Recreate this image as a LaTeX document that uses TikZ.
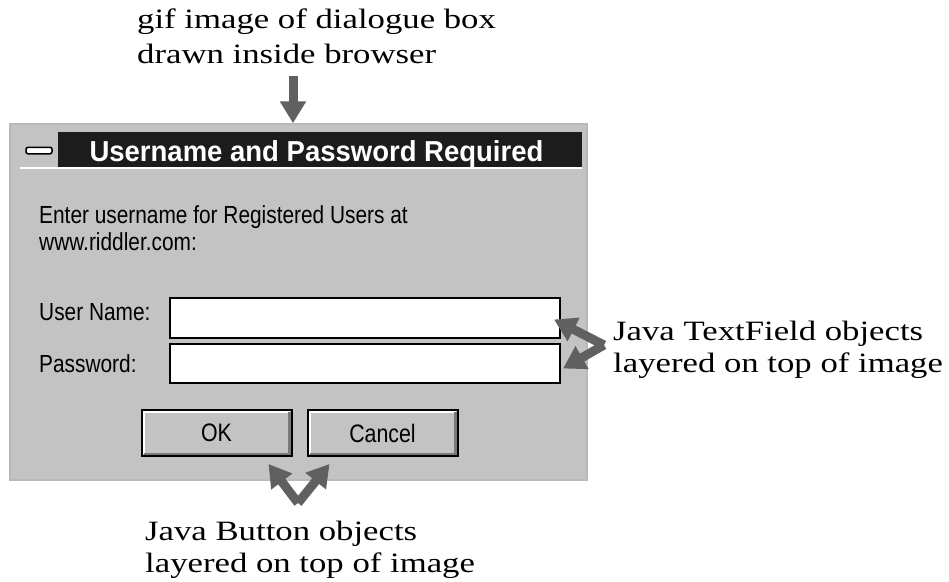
\documentclass[tikz,border=0pt]{standalone}
\usepackage{fontspec}
\usepackage{graphicx}
\setmainfont{Liberation Serif}
\setsansfont{Liberation Sans}
\usetikzlibrary{arrows.meta}
\definecolor{dlgbg}{HTML}{C3C3C3}
\definecolor{arrgray}{HTML}{606060}
\definecolor{titlebg}{HTML}{1C1C1C}
\definecolor{shadow}{HTML}{7A7A7A}
\newcommand\widetext[1]{\scalebox{1.24}[1]{#1}}
\newcommand\talltext[1]{\scalebox{0.97}[1.15]{#1}}
\begin{document}
\begin{tikzpicture}[x=1pt,y=-1pt,
  note/.style={font=\fontsize{28}{33}\selectfont, anchor=base west, inner sep=0pt},
  dlgtext/.style={font=\sffamily\fontsize{21.5}{25}\selectfont, anchor=base west, inner sep=0pt},
  fatarrow/.style={draw=arrgray, line width=9pt, -{Triangle[length=22pt,width=25pt]}},
  field/.style={draw=black, line width=2pt, fill=white, minimum width=390pt, inner sep=0pt},
  button/.style={draw=black, line width=2pt, fill=dlgbg, minimum width=150pt, minimum height=46pt, inner sep=0pt, font=\sffamily\fontsize{22}{25}\selectfont},
]
\useasboundingbox (0,0) rectangle (949,581);

% dialog
\node[draw=gray!55, line width=1.5pt, fill=dlgbg, minimum width=577pt, minimum height=356pt, inner sep=0pt] (dlg) at (298.5,302) {};
\node[fill=titlebg, minimum width=524pt, minimum height=37pt, inner sep=0pt] (title) at (320,150.5) {};
\node[fill=dlgbg, minimum width=38pt, minimum height=37pt, inner sep=0pt] (menu) at (39,150.5) {};
\node[draw=black, fill=white, rounded corners=2pt, minimum width=26pt, minimum height=6.5pt, inner sep=0pt, line width=1.5pt] (dash) at (menu.center) {};
\draw[white, line width=1.5pt] ([yshift=1pt]menu.south west) -- ([yshift=1pt]title.south east);
\node[font=\sffamily\bfseries\fontsize{27.5}{30}\selectfont, text=white, anchor=base, inner sep=0pt] (ttext) at (316.5,161) {\scalebox{1}[1.05]{Username and Password Required}};

\node[dlgtext] (enter) at (39,223) {\talltext{Enter username for Registered Users at}};
\node[dlgtext] (www) at (39,250) {\talltext{www.riddler.com:}};
\node[dlgtext] (uname) at (39,320) {\talltext{User Name:}};
\node[dlgtext] (pwd) at (39,372) {\talltext{Password:}};

\node[field, minimum height=40pt] (f1) at (365,317.5) {};
\node[field, minimum height=39pt] (f2) at (365,363.5) {};

\node[button] (ok) at (216.5,433) {\talltext{OK}};
\node[button] (cancel) at (382.5,433) {\talltext{Cancel}};
\foreach \b in {ok,cancel}{
  \draw[white, line width=2pt] ([shift={(3,-3)}]\b.south west) -- ([shift={(3,3)}]\b.north west) -- ([shift={(-3,3)}]\b.north east);
  \draw[shadow, line width=2.5pt] ([shift={(-3,3)}]\b.north east) -- ([shift={(-3,-3)}]\b.south east) -- ([shift={(3,-3)}]\b.south west);
}

% arrows
\coordinate (topstart) at (293,76);
\draw[fatarrow] (topstart) -- (topstart |- dlg.north);
\coordinate (rv) at (604,345);
\draw[fatarrow] (rv) -- ([shift={(-7,2)}]f1.east);
\draw[fatarrow] (rv) -- ([shift={(2,5)}]f2.east);
\coordinate (bv) at (298,503);
\draw[fatarrow] (bv) -- ([shift={(-24,7)}]ok.south east);
\draw[fatarrow] (bv) -- ([shift={(23,7)}]cancel.south west);

% notes
\node[note] (top1) at (137,28) {\widetext{gif image of dialogue box}};
\node[note] (top2) at (137,63) {\widetext{drawn inside browser}};
\node[note] (r1) at (613,340) {\widetext{Java TextField objects}};
\node[note] (r2) at (613,372) {\widetext{layered on top of image}};
\node[note] (b1) at (145,540) {\widetext{Java Button objects}};
\node[note] (b2) at (145,572) {\widetext{layered on top of image}};
\end{tikzpicture}
\end{document}
